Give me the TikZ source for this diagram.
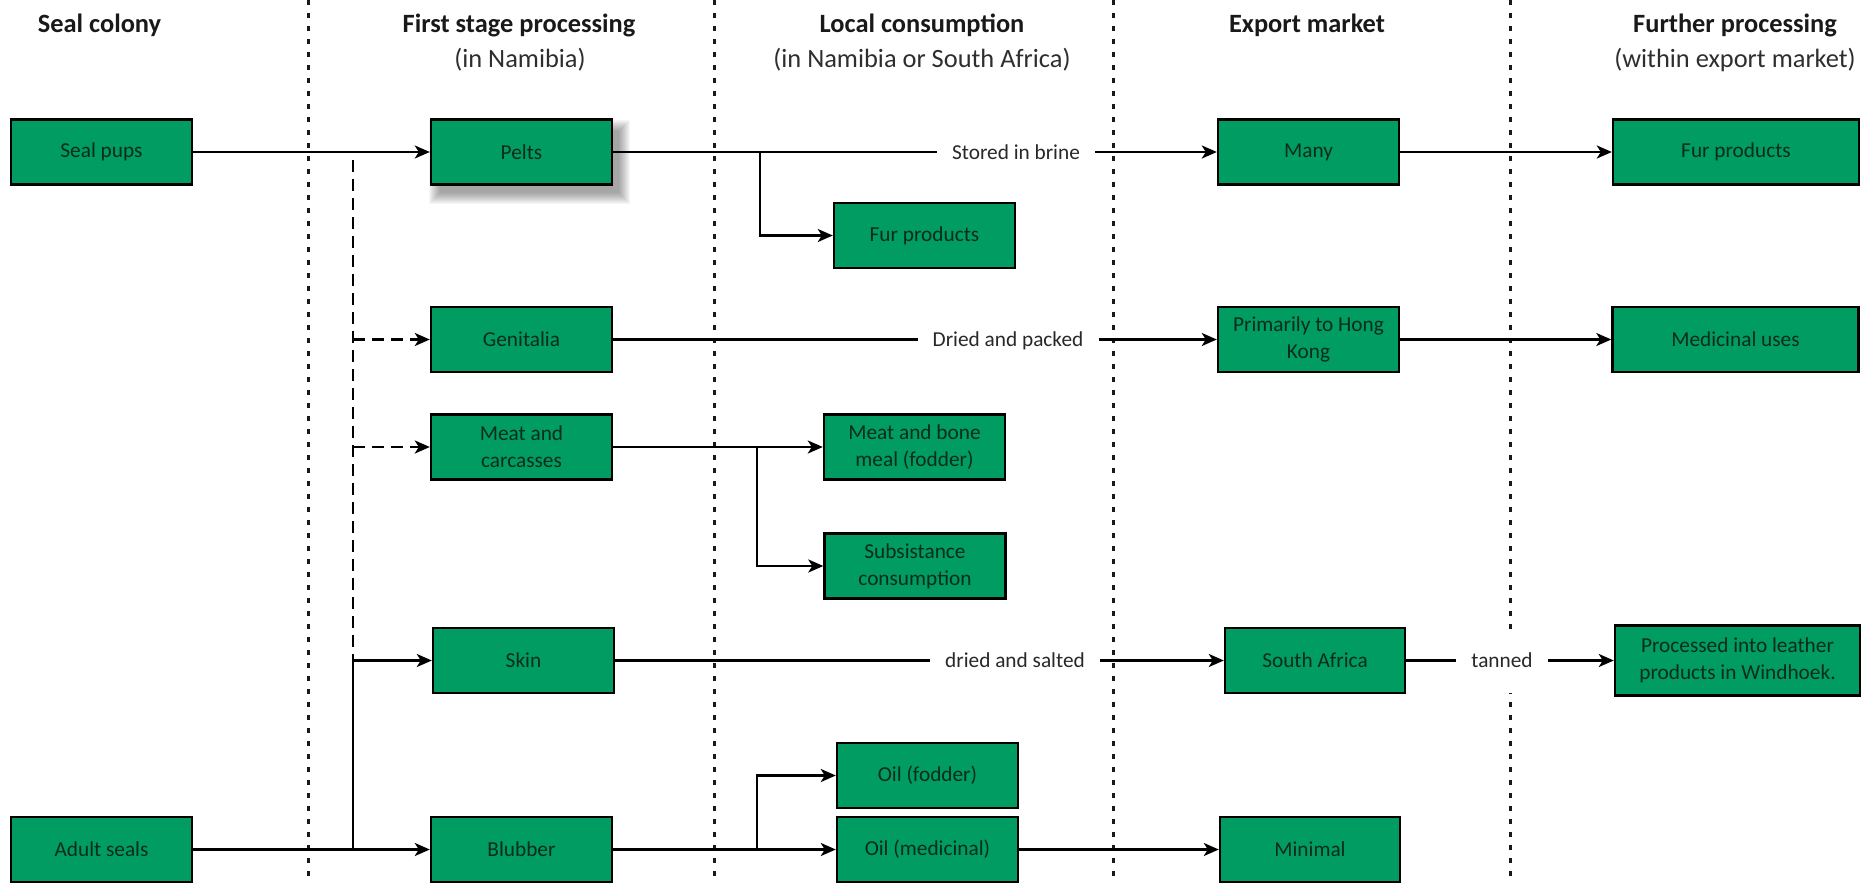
\documentclass[tikz,border=0pt]{standalone}
\usepackage{fontspec}
\setmainfont{Carlito}
\usetikzlibrary{arrows.meta}
\definecolor{boxgreen}{RGB}{0,156,98}
\definecolor{boxtext}{RGB}{10,45,25}
\definecolor{lbltext}{RGB}{40,40,40}
\begin{document}
\begin{tikzpicture}[x=1pt,y=-1pt,
 bx/.style={draw=black, line width=2.4pt, fill=boxgreen, minimum width=181pt, minimum height=65pt, inner sep=0pt, align=center, text=boxtext, font=\fontsize{21.3}{27}\selectfont},
 wide/.style={minimum width=246pt},
 hdr/.style={font=\bfseries\fontsize{26.4}{30}\selectfont, anchor=base, inner sep=0pt, text=black!90},
 sub/.style={font=\fontsize{26.4}{30}\selectfont, anchor=base, inner sep=0pt, text=black!82},
 lbl/.style={fill=white, text=lbltext, font=\fontsize{21.3}{27}\selectfont, text height=14pt, text depth=0pt, inner xsep=15pt, inner ysep=4pt},
 conn/.style={line width=2.4pt, draw=black},
 arr/.style={conn, -{Stealth[length=15pt,width=13pt,inset=4pt]}},
 dsh/.style={dash pattern=on 12pt off 7pt},
 sect/.style={line width=3pt, draw=black!90, dash pattern=on 5pt off 8pt}
]
\useasboundingbox (0,0) rectangle (1872,883);
% shadow under Pelts
\foreach \i in {1,...,12}{\fill[black,opacity=0.035] ({441-\i},{132-\i}) rectangle ({618+\i},{192+\i});}
% section separators
\coordinate (v1t) at (308,0); \coordinate (v1b) at (308,883);
\coordinate (v2t) at (714,0); \coordinate (v2b) at (714,883);
\coordinate (v3t) at (1113,0); \coordinate (v3b) at (1113,883);
\coordinate (v4t) at (1510,0); \coordinate (v4b) at (1510,883);
\draw[sect] (v1t) -- (v1b);
\draw[sect] (v2t) -- (v2b);
\draw[sect] (v3t) -- (v3b);
\draw[sect] (v4t) -- (v4b);
% headers
\node[hdr] (h1) at (99.5,33) {Seal colony};
\node[hdr] (h2) at (519,33) {First stage processing};
\node[sub] (s2) at (520,67) {(in Namibia)};
\node[hdr] (h3) at (922,33) {Local consumption};
\node[sub] (s3) at (922,67) {(in Namibia or South Africa)};
\node[hdr] (h4) at (1307,33) {Export market};
\node[hdr] (h5) at (1735,33) {Further processing};
\node[sub] (s5) at (1735,67) {(within export market)};
% boxes
\node[bx] (sp) at (101.5,152) {Seal pups};
\node[bx] (pelts) at (521.5,152) {Pelts};
\node[bx] (fur1) at (924.5,235.5) {Fur products};
\node[bx] (many) at (1308.5,152) {Many};
\node[bx,wide] (fur2) at (1736,152) {Fur products};
\node[bx] (gen) at (521.5,339.5) {Genitalia};
\node[bx] (hk) at (1308.5,339.5) {Primarily to Hong\\Kong};
\node[bx,wide] (med) at (1735.5,339.5) {Medicinal uses};
\node[bx] (meat) at (521.5,447) {Meat and\\carcasses};
\node[bx] (mbm) at (914.5,447) {Meat and bone\\meal (fodder)};
\node[bx] (subs) at (915,566) {Subsistance\\consumption};
\node[bx] (skin) at (523.5,660.5) {Skin};
\node[bx,minimum width=180pt] (sa) at (1315,660.5) {South Africa};
\node[bx,minimum width=245pt,minimum height=70pt] (proc) at (1737.5,660.5) {Processed into leather\\products in Windhoek.};
\node[bx] (oilf) at (927.5,775.5) {Oil (fodder)};
\node[bx] (oilm) at (927.5,849.5) {Oil (medicinal)};
\node[bx] (adult) at (101.5,849.5) {Adult seals};
\node[bx] (blub) at (521.5,849.5) {Blubber};
\node[bx,minimum width=180pt] (min) at (1310,849.5) {Minimal};
% edge labels
\node[lbl] (l1) at (1016,152) {Stored in brine};
\node[lbl] (l2) at (1008,339.5) {Dried and packed};
\node[lbl] (l3) at (1015,660.5) {dried and salted};
\node[lbl,inner ysep=25pt] (l4) at (1502,660.5) {tanned};
% connectors
\coordinate (b1) at (760,152);
\coordinate (b2) at (757,447);
\coordinate (b3) at (353,849.5);
\coordinate (b4) at (757,849.5);
\coordinate (d0) at (353,160);
\coordinate (d1) at (353,339.5);
\coordinate (d2) at (353,447);
\coordinate (d3) at (353,660.5);
\draw[arr] (sp) -- (pelts);
\draw[conn] (pelts) -- (l1);
\draw[arr] (l1) -- (many);
\draw[arr] (b1) |- (fur1);
\draw[arr] (many) -- (fur2);
\draw[conn] (gen) -- (l2);
\draw[arr] (l2) -- (hk);
\draw[arr] (hk) -- (med);
\draw[arr] (meat) -- (mbm);
\draw[arr] (b2) |- (subs);
\draw[conn] (skin) -- (l3);
\draw[arr] (l3) -- (sa);
\draw[conn] (sa) -- (l4);
\draw[arr] (l4) -- (proc);
\draw[arr] (adult) -- (blub);
\draw[arr] (b3) |- (skin);
\draw[arr] (blub) -- (oilm);
\draw[arr] (b4) |- (oilf);
\draw[arr] (oilm) -- (min);
\draw[conn,dsh] (d0) -- (d3);
\draw[arr,dsh] (d1) -- (gen);
\draw[arr,dsh] (d2) -- (meat);
\end{tikzpicture}
\end{document}
